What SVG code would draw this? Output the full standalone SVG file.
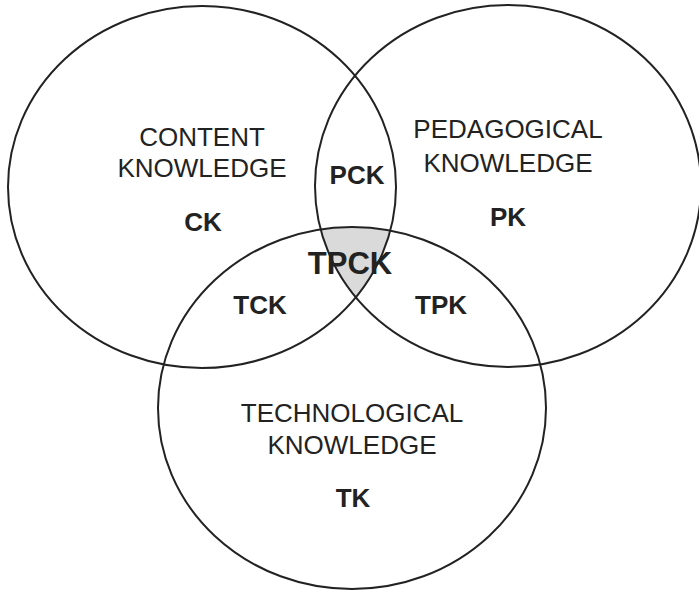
<svg xmlns="http://www.w3.org/2000/svg" width="699" height="590" viewBox="0 0 699 590">
  <style>
    .ring { fill: none; stroke: #222; stroke-width: 2; }
    .name { font-family: "Liberation Sans", Arial, sans-serif; font-size: 26px; fill: #222; text-anchor: middle; }
    .abbr { font-family: "Liberation Sans", Arial, sans-serif; font-size: 26px; font-weight: bold; fill: #222; text-anchor: middle; }
    .core { font-size: 31px; }
  </style>
  <defs>
    <clipPath id="clip-ck"><ellipse cx="202" cy="187" rx="194" ry="181"/></clipPath>
    <clipPath id="clip-pk"><ellipse cx="508" cy="186" rx="193" ry="181"/></clipPath>
  </defs>

  <!-- shaded triple overlap (TPCK) -->
  <g id="tpck-area" clip-path="url(#clip-ck)">
    <g clip-path="url(#clip-pk)">
      <ellipse cx="352" cy="408" rx="194" ry="181" fill="#dadada"/>
    </g>
  </g>

  <!-- knowledge domains -->
  <g id="ck">
    <ellipse class="ring" cx="202" cy="187" rx="194" ry="181"/>
    <text class="name" x="202" y="146">CONTENT</text>
    <text class="name" x="202" y="177">KNOWLEDGE</text>
    <text class="abbr" x="203" y="231">CK</text>
  </g>
  <g id="pk">
    <ellipse class="ring" cx="508" cy="186" rx="193" ry="181"/>
    <text class="name" x="508" y="138">PEDAGOGICAL</text>
    <text class="name" x="508" y="172">KNOWLEDGE</text>
    <text class="abbr" x="508" y="226">PK</text>
  </g>
  <g id="tk">
    <ellipse class="ring" cx="352" cy="408" rx="194" ry="181"/>
    <text class="name" x="352" y="422">TECHNOLOGICAL</text>
    <text class="name" x="352" y="454">KNOWLEDGE</text>
    <text class="abbr" x="353" y="507">TK</text>
  </g>

  <!-- overlap labels -->
  <g id="pck"><text class="abbr" x="357" y="184">PCK</text></g>
  <g id="tck"><text class="abbr" x="260" y="314">TCK</text></g>
  <g id="tpk"><text class="abbr" x="441" y="314">TPK</text></g>
  <g id="tpck"><text class="abbr core" x="350" y="274">TPCK</text></g>
</svg>
